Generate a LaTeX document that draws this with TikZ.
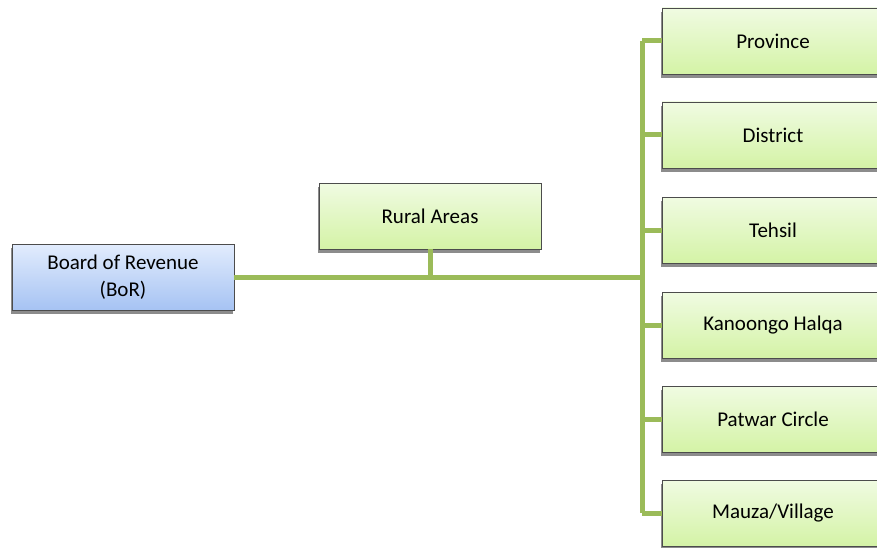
\documentclass[tikz,border=0pt]{standalone}
\usepackage{fontspec}
\setmainfont{Carlito}
\usetikzlibrary{shadows}
\definecolor{linegreen}{HTML}{9BBB59}
\definecolor{greentop}{HTML}{F0FBE2}
\definecolor{greenbot}{HTML}{D4F3A6}
\definecolor{bluetop}{HTML}{E2ECFD}
\definecolor{bluebot}{HTML}{A6C3F3}
\begin{document}
\begin{tikzpicture}[
    x=1pt, y=-1pt,
    unit box/.style={draw=black!70, line width=0.8pt, minimum width=222pt,
        minimum height=66pt, inner sep=0pt, align=center,
        font=\fontsize{21}{27}\selectfont,
        drop shadow={shadow xshift=-1.5pt, shadow yshift=-4pt, fill=black!45, opacity=1}},
    green box/.style={unit box, top color=greentop, bottom color=greenbot},
    blue box/.style={unit box, top color=bluetop, bottom color=bluebot},
    branch line/.style={linegreen, line width=5pt},
    ]
    \useasboundingbox (0,0) rectangle (877,548);

    % top levels
    \node[blue box] (bor) at (123,277) {Board of Revenue\\(BoR)};
    \node[green box] (rural) at (430,216) {Rural Areas};
    % revenue units
    \foreach \name/\y/\text in {province/41/Province, district/135/District,
        tehsil/230/Tehsil, kanoongo/325/Kanoongo Halqa,
        patwar/419/Patwar Circle, mauza/513/{Mauza/Village}}
        \node[green box] (\name) at (773,\y) {\text};
    % junctions
    \coordinate (trunk) at (642,277);
    % connectors
    \draw[branch line] (bor.east) -- (trunk);
    \draw[branch line] (rural.south) -- (rural.south |- trunk);
    \draw[branch line] (trunk |- province.west) -- (trunk |- mauza.west);
    \foreach \name in {province, district, tehsil, kanoongo, patwar, mauza}
        \draw[branch line] (trunk |- \name.west) -- (\name.west);
\end{tikzpicture}
\end{document}
